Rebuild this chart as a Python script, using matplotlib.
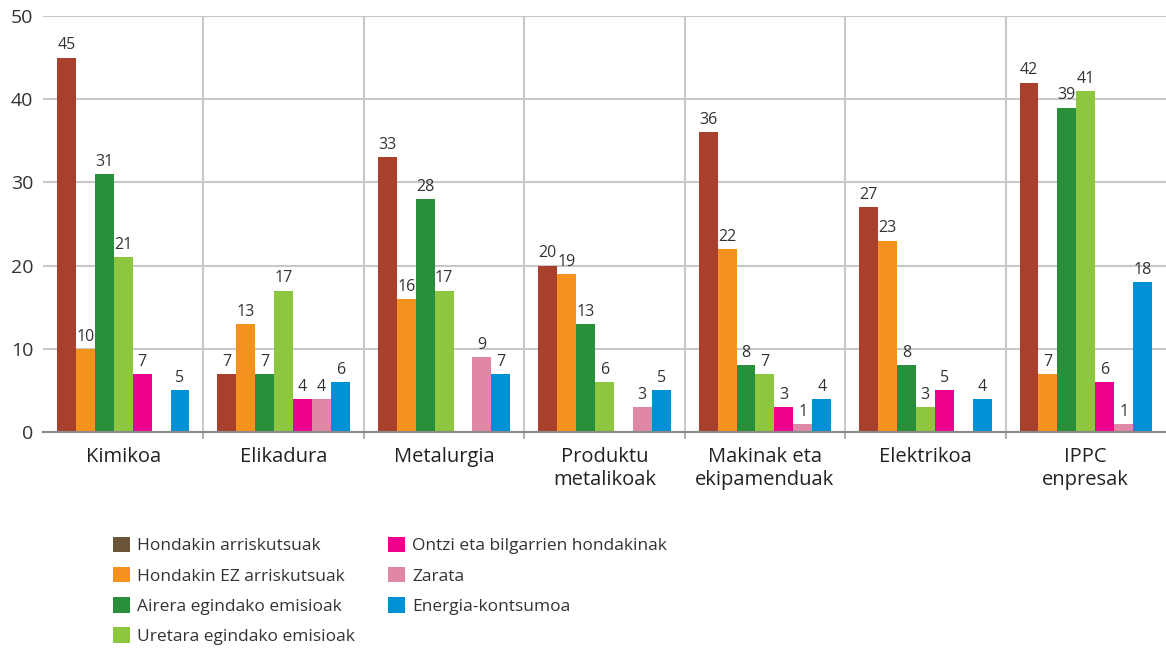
import numpy as np
import matplotlib
matplotlib.use("Agg")
import matplotlib.pyplot as plt
from matplotlib.patches import Patch

plt.rcParams['font.family'] = ['Open Sans', 'DejaVu Sans']

# data
categories = ["Kimikoa", "Elikadura", "Metalurgia", "Produktu\nmetalikoak",
              "Makinak eta\nekipamenduak", "Elektrikoa", "IPPC\nenpresak"]
series_names = ["Hondakin arriskutsuak", "Hondakin EZ arriskutsuak",
                "Airera egindako emisioak", "Uretara egindako emisioak",
                "Ontzi eta bilgarrien hondakinak", "Zarata", "Energia-kontsumoa"]
hondakin_arr = [45, 7, 33, 20, 36, 27, 42]
hondakin_ez = [10, 13, 16, 19, 22, 23, 7]
airera = [31, 7, 28, 13, 8, 8, 39]
uretara = [21, 17, 17, 6, 7, 3, 41]
ontzi = [7, 4, 0, 0, 3, 5, 6]
zarata = [0, 4, 9, 3, 1, 0, 1]
energia = [5, 6, 7, 5, 4, 4, 18]
series = [hondakin_arr, hondakin_ez, airera, uretara, ontzi, zarata, energia]

bar_colors = ["#a8402c", "#f5921e", "#2a8f3a", "#8dc63f", "#ec008c", "#e087a8", "#0090d6"]
legend_colors = ["#6b5537"] + bar_colors[1:]
text_col = "#333333"

fig = plt.figure(figsize=(11.66, 6.48), dpi=100)
ax = fig.add_axes([43 / 1166, 216 / 648, 1 - 43 / 1166, (432 - 16) / 648])

n = len(series)
w = 0.118
x = np.arange(len(categories))
for i, (vals, col) in enumerate(zip(series, bar_colors)):
    pos = x + (i - (n - 1) / 2) * w
    ax.bar(pos, vals, width=w, color=col, zorder=3)
    for p, v in zip(pos, vals):
        if v > 0:
            ax.text(p, v + 0.5, str(v), ha="center", va="bottom",
                    fontsize=11.5, color=text_col, zorder=4)

ax.set_xlim(-0.5, len(categories) - 0.5)
ax.set_ylim(0, 50)
ax.set_yticks(range(0, 51, 10))
ax.yaxis.grid(True, color="#c8c8c8", linewidth=1.5, zorder=0)
for b in np.arange(0.5, len(categories) - 1, 1):
    ax.axvline(b, color="#c8c8c8", linewidth=1.5, zorder=0)

ax.set_xticks(x)
ax.set_xticklabels(categories, fontsize=14.5, color="#222222", linespacing=1.15)
ax.set_xticks(np.arange(0.5, len(categories) - 1, 1), minor=True)
ax.tick_params(axis="x", which="major", length=0, pad=11)
ax.tick_params(axis="x", which="minor", length=5, color="#b0b0b0", width=1.5)
ax.tick_params(axis="y", length=0, labelsize=14, labelcolor=text_col, pad=7)

for s in ["top", "right", "left"]:
    ax.spines[s].set_visible(False)
ax.spines["bottom"].set_color("#8a8a8a")
ax.spines["bottom"].set_linewidth(1.5)
ax.spines["bottom"].set_zorder(5)

handles = [Patch(facecolor=c, edgecolor="none") for c in legend_colors]
fig.legend(handles, series_names, ncol=2, loc="upper left",
           bbox_to_anchor=(97 / 1166, 1 - 521 / 648), frameon=False,
           fontsize=12.5, labelcolor=text_col, handlelength=1.0, handleheight=1.0,
           handletextpad=0.4, labelspacing=0.72, columnspacing=1.9)

fig.savefig("out.png", dpi=100)
